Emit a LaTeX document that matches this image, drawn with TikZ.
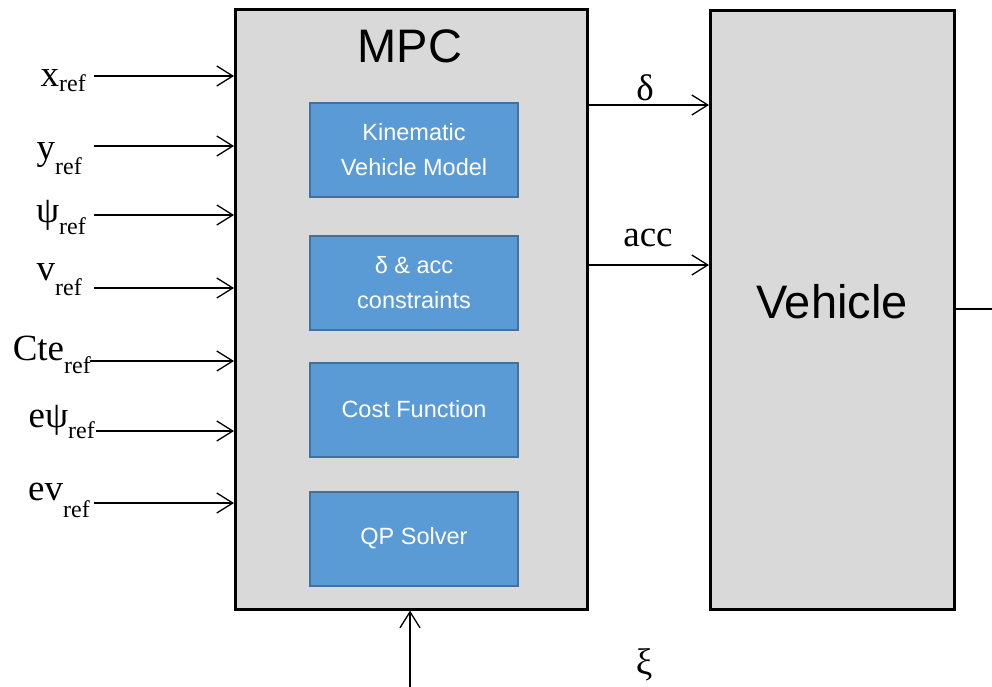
\documentclass[tikz,border=0pt]{standalone}
\usepackage{fontspec}
\setmainfont{Liberation Serif}
\newfontfamily\boxfont{Liberation Sans}
\usetikzlibrary{arrows.meta}

\definecolor{blockgray}{HTML}{D9D9D9}
\definecolor{innerblue}{HTML}{5B9BD5}
\definecolor{innerborder}{HTML}{41719C}

% subscript "ref" lowered by #1 pt below the main baseline
\newcommand{\refsub}[1]{\raisebox{-#1pt}{\fontsize{24}{24}\selectfont ref}}

\tikzset{
  blk/.style={draw=black, line width=2.6pt, fill=blockgray, inner sep=0pt},
  subblk/.style={draw=innerborder, line width=2pt, fill=innerblue, inner sep=0pt,
    minimum width=208pt, minimum height=94pt, text=white, align=center,
    font=\boxfont\fontsize{23.5}{35}\selectfont},
  title/.style={font=\boxfont\fontsize{47}{47}\selectfont, inner sep=0pt},
  sig/.style={line width=1.3pt, -{Straight Barb[length=16pt,width=20pt,line width=1.3pt]}},
  lbl/.style={font=\fontsize{37}{40}\selectfont, inner sep=0pt},
}

\begin{document}
\begin{tikzpicture}[x=1pt,y=-1pt]
\useasboundingbox (0,0) rectangle (992,687);

% main blocks
\node[blk, minimum width=352pt, minimum height=600pt, anchor=north west] (mpc) at (234,8) {};
\node[blk, minimum width=244pt, minimum height=599pt, anchor=north west] (veh) at (709,9) {};
\node[title, anchor=base] (mpctitle) at (410,63) {MPC};
\node[title, anchor=base] (vehtitle) at (832,318) {Vehicle};

% MPC internals
\node[subblk] (kvm) at (414,150) {Kinematic\\Vehicle Model};
\node[subblk] (cons) at (414,283) {δ \& acc\\constraints};
\node[subblk] (cost) at (414,409.5) {Cost Function};
\node[subblk] (qp) at (414,538.5) {QP Solver};

% reference inputs
\node[lbl, anchor=base east] (lx) at (86,87) {x\refsub{5}};
\node[lbl, anchor=base east] (ly) at (82,160) {y\refsub{15}};
\node[lbl, anchor=base east] (lpsi) at (86,222) {ψ\refsub{13}};
\node[lbl, anchor=base east] (lv) at (82,280) {v\refsub{15}};
\node[lbl, anchor=base east] (lcte) at (91,360) {Cte\refsub{13}};
\node[lbl, anchor=base east] (lepsi) at (95,427) {eψ\refsub{11}};
\node[lbl, anchor=base east] (lev) at (90,500) {ev\refsub{17}};

\coordinate (sx) at (94,76);
\coordinate (sy) at (94,146);
\coordinate (spsi) at (94,215);
\coordinate (sv) at (94,288);
\coordinate (scte) at (90,361);
\coordinate (sepsi) at (96,431);
\coordinate (sev) at (94,503);

\foreach \s in {sx,sy,spsi,sv,scte,sepsi,sev}
  \draw[sig] (\s) -- (\s -| mpc.west);

% outputs of the controller
\coordinate (dout) at (587,105);
\coordinate (aout) at (587,265);
\draw[sig] (dout -| mpc.east) -- (dout -| veh.west);
\draw[sig] (aout -| mpc.east) -- (aout -| veh.west);
\node[lbl, anchor=base] (ldelta) at (645,101) {δ};
\node[lbl, anchor=base] (lacc) at (648,246) {acc};

% vehicle output
\coordinate (vout) at (992,309);
\draw[line width=1.3pt] (veh.east |- vout) -- (vout);

% disturbance input
\coordinate (xiin) at (410,687);
\draw[sig] (xiin) -- (xiin |- mpc.south);
\node[lbl, anchor=base] (lxi) at (644,674) {ξ};
\end{tikzpicture}
\end{document}
